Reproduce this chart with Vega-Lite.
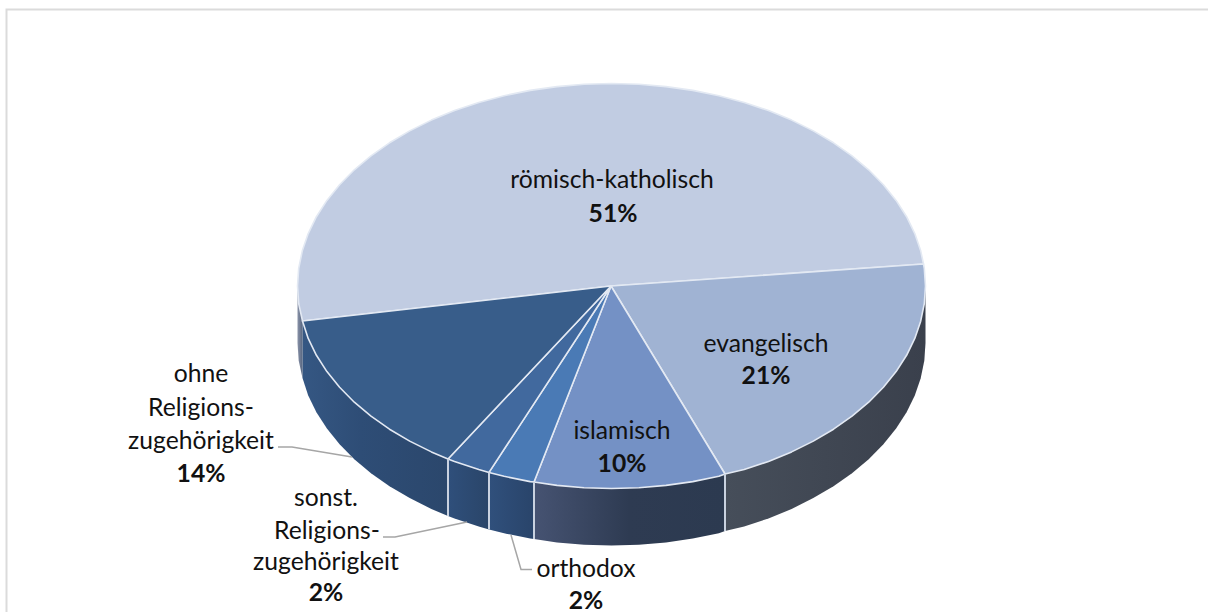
{"$schema":"https://vega.github.io/schema/vega-lite/v6.json","width":1208,"height":612,"padding":0,"autosize":{"type":"none"},"background":"white","config":{"view":{"stroke":null}},
"datasets":{
"walls":[
{"part":"w1","seq":1,"x":925.5,"y":286},{"part":"w1","seq":2,"x":925.5,"y":343},{"part":"w1","seq":3,"x":924.3,"y":360.7},{"part":"w1","seq":4,"x":920.7,"y":378.2},{"part":"w1","seq":5,"x":914.8,"y":395.4},{"part":"w1","seq":6,"x":906.6,"y":412.3},{"part":"w1","seq":7,"x":896.1,"y":428.6},{"part":"w1","seq":8,"x":883.4,"y":444.3},{"part":"w1","seq":9,"x":868.7,"y":459.2},{"part":"w1","seq":10,"x":852,"y":473.2},{"part":"w1","seq":11,"x":833.5,"y":486.2},{"part":"w1","seq":12,"x":813.3,"y":498.1},{"part":"w1","seq":13,"x":791.6,"y":508.9},{"part":"w1","seq":14,"x":768.5,"y":518.4},{"part":"w1","seq":15,"x":744.2,"y":526.5},{"part":"w1","seq":16,"x":725,"y":531},{"part":"w1","seq":17,"x":725,"y":474},
{"part":"w2","seq":1,"x":725,"y":474},{"part":"w2","seq":2,"x":725,"y":531},{"part":"w2","seq":3,"x":718.9,"y":533.3},{"part":"w2","seq":4,"x":692.8,"y":538.6},{"part":"w2","seq":5,"x":666,"y":542.4},{"part":"w2","seq":6,"x":638.9,"y":544.7},{"part":"w2","seq":7,"x":611.5,"y":545.5},{"part":"w2","seq":8,"x":584.1,"y":544.7},{"part":"w2","seq":9,"x":557,"y":542.4},{"part":"w2","seq":10,"x":534,"y":539},{"part":"w2","seq":11,"x":534,"y":482},
{"part":"w3","seq":1,"x":534,"y":482},{"part":"w3","seq":2,"x":534,"y":539},{"part":"w3","seq":3,"x":530.2,"y":538.6},{"part":"w3","seq":4,"x":504.1,"y":533.3},{"part":"w3","seq":5,"x":489,"y":529.4},{"part":"w3","seq":6,"x":489,"y":472.4},
{"part":"w4","seq":1,"x":489,"y":472.4},{"part":"w4","seq":2,"x":489,"y":529.4},{"part":"w4","seq":3,"x":478.8,"y":526.5},{"part":"w4","seq":4,"x":454.5,"y":518.4},{"part":"w4","seq":5,"x":448,"y":516},{"part":"w4","seq":6,"x":448,"y":459},
{"part":"w5","seq":1,"x":448,"y":459},{"part":"w5","seq":2,"x":448,"y":516},{"part":"w5","seq":3,"x":431.4,"y":508.9},{"part":"w5","seq":4,"x":409.7,"y":498.1},{"part":"w5","seq":5,"x":389.5,"y":486.2},{"part":"w5","seq":6,"x":371,"y":473.2},{"part":"w5","seq":7,"x":354.3,"y":459.2},{"part":"w5","seq":8,"x":339.6,"y":444.3},{"part":"w5","seq":9,"x":326.9,"y":428.6},{"part":"w5","seq":10,"x":316.4,"y":412.3},{"part":"w5","seq":11,"x":308.2,"y":395.4},{"part":"w5","seq":12,"x":302.5,"y":378},{"part":"w5","seq":13,"x":302.5,"y":321},
{"part":"w6","seq":1,"x":302.5,"y":321},{"part":"w6","seq":2,"x":302.5,"y":378},{"part":"w6","seq":3,"x":298.7,"y":360.7},{"part":"w6","seq":4,"x":297.5,"y":343},{"part":"w6","seq":5,"x":297.5,"y":286}
],
"slices":[
{"part":"römisch-katholisch","seq":1,"x":611,"y":286},{"part":"römisch-katholisch","seq":2,"x":302.5,"y":321},{"part":"römisch-katholisch","seq":3,"x":298.7,"y":303.7},{"part":"römisch-katholisch","seq":4,"x":297.5,"y":286},{"part":"römisch-katholisch","seq":5,"x":298.7,"y":268.3},{"part":"römisch-katholisch","seq":6,"x":302.3,"y":250.8},{"part":"römisch-katholisch","seq":7,"x":308.2,"y":233.6},{"part":"römisch-katholisch","seq":8,"x":316.4,"y":216.7},{"part":"römisch-katholisch","seq":9,"x":326.9,"y":200.4},{"part":"römisch-katholisch","seq":10,"x":339.6,"y":184.7},{"part":"römisch-katholisch","seq":11,"x":354.3,"y":169.8},{"part":"römisch-katholisch","seq":12,"x":371,"y":155.8},{"part":"römisch-katholisch","seq":13,"x":389.5,"y":142.8},{"part":"römisch-katholisch","seq":14,"x":409.7,"y":130.9},{"part":"römisch-katholisch","seq":15,"x":431.4,"y":120.1},{"part":"römisch-katholisch","seq":16,"x":454.5,"y":110.6},{"part":"römisch-katholisch","seq":17,"x":478.8,"y":102.5},{"part":"römisch-katholisch","seq":18,"x":504.1,"y":95.7},{"part":"römisch-katholisch","seq":19,"x":530.2,"y":90.4},{"part":"römisch-katholisch","seq":20,"x":557,"y":86.6},{"part":"römisch-katholisch","seq":21,"x":584.1,"y":84.3},{"part":"römisch-katholisch","seq":22,"x":611.5,"y":83.5},{"part":"römisch-katholisch","seq":23,"x":638.9,"y":84.3},{"part":"römisch-katholisch","seq":24,"x":666,"y":86.6},{"part":"römisch-katholisch","seq":25,"x":692.8,"y":90.4},{"part":"römisch-katholisch","seq":26,"x":718.9,"y":95.7},{"part":"römisch-katholisch","seq":27,"x":744.2,"y":102.5},{"part":"römisch-katholisch","seq":28,"x":768.5,"y":110.6},{"part":"römisch-katholisch","seq":29,"x":791.6,"y":120.1},{"part":"römisch-katholisch","seq":30,"x":813.3,"y":130.9},{"part":"römisch-katholisch","seq":31,"x":833.5,"y":142.8},{"part":"römisch-katholisch","seq":32,"x":852,"y":155.8},{"part":"römisch-katholisch","seq":33,"x":868.7,"y":169.8},{"part":"römisch-katholisch","seq":34,"x":883.4,"y":184.7},{"part":"römisch-katholisch","seq":35,"x":896.1,"y":200.4},{"part":"römisch-katholisch","seq":36,"x":906.6,"y":216.7},{"part":"römisch-katholisch","seq":37,"x":914.8,"y":233.6},{"part":"römisch-katholisch","seq":38,"x":920.7,"y":250.8},{"part":"römisch-katholisch","seq":39,"x":923.5,"y":264},{"part":"römisch-katholisch","seq":40,"x":611,"y":286},
{"part":"evangelisch","seq":1,"x":611,"y":286},{"part":"evangelisch","seq":2,"x":923.5,"y":264},{"part":"evangelisch","seq":3,"x":924.3,"y":268.3},{"part":"evangelisch","seq":4,"x":925.5,"y":286},{"part":"evangelisch","seq":5,"x":924.3,"y":303.7},{"part":"evangelisch","seq":6,"x":920.7,"y":321.2},{"part":"evangelisch","seq":7,"x":914.8,"y":338.4},{"part":"evangelisch","seq":8,"x":906.6,"y":355.3},{"part":"evangelisch","seq":9,"x":896.1,"y":371.6},{"part":"evangelisch","seq":10,"x":883.4,"y":387.3},{"part":"evangelisch","seq":11,"x":868.7,"y":402.2},{"part":"evangelisch","seq":12,"x":852,"y":416.2},{"part":"evangelisch","seq":13,"x":833.5,"y":429.2},{"part":"evangelisch","seq":14,"x":813.3,"y":441.1},{"part":"evangelisch","seq":15,"x":791.6,"y":451.9},{"part":"evangelisch","seq":16,"x":768.5,"y":461.4},{"part":"evangelisch","seq":17,"x":744.2,"y":469.5},{"part":"evangelisch","seq":18,"x":725,"y":474},{"part":"evangelisch","seq":19,"x":611,"y":286},
{"part":"islamisch","seq":1,"x":611,"y":286},{"part":"islamisch","seq":2,"x":725,"y":474},{"part":"islamisch","seq":3,"x":718.9,"y":476.3},{"part":"islamisch","seq":4,"x":692.8,"y":481.6},{"part":"islamisch","seq":5,"x":666,"y":485.4},{"part":"islamisch","seq":6,"x":638.9,"y":487.7},{"part":"islamisch","seq":7,"x":611.5,"y":488.5},{"part":"islamisch","seq":8,"x":584.1,"y":487.7},{"part":"islamisch","seq":9,"x":557,"y":485.4},{"part":"islamisch","seq":10,"x":534,"y":482},{"part":"islamisch","seq":11,"x":611,"y":286},
{"part":"orthodox","seq":1,"x":611,"y":286},{"part":"orthodox","seq":2,"x":534,"y":482},{"part":"orthodox","seq":3,"x":530.2,"y":481.6},{"part":"orthodox","seq":4,"x":504.1,"y":476.3},{"part":"orthodox","seq":5,"x":489,"y":472.4},{"part":"orthodox","seq":6,"x":611,"y":286},
{"part":"sonst. Religionszugehörigkeit","seq":1,"x":611,"y":286},{"part":"sonst. Religionszugehörigkeit","seq":2,"x":489,"y":472.4},{"part":"sonst. Religionszugehörigkeit","seq":3,"x":478.8,"y":469.5},{"part":"sonst. Religionszugehörigkeit","seq":4,"x":454.5,"y":461.4},{"part":"sonst. Religionszugehörigkeit","seq":5,"x":448,"y":459},{"part":"sonst. Religionszugehörigkeit","seq":6,"x":611,"y":286},
{"part":"ohne Religionszugehörigkeit","seq":1,"x":611,"y":286},{"part":"ohne Religionszugehörigkeit","seq":2,"x":448,"y":459},{"part":"ohne Religionszugehörigkeit","seq":3,"x":431.4,"y":451.9},{"part":"ohne Religionszugehörigkeit","seq":4,"x":409.7,"y":441.1},{"part":"ohne Religionszugehörigkeit","seq":5,"x":389.5,"y":429.2},{"part":"ohne Religionszugehörigkeit","seq":6,"x":371,"y":416.2},{"part":"ohne Religionszugehörigkeit","seq":7,"x":354.3,"y":402.2},{"part":"ohne Religionszugehörigkeit","seq":8,"x":339.6,"y":387.3},{"part":"ohne Religionszugehörigkeit","seq":9,"x":326.9,"y":371.6},{"part":"ohne Religionszugehörigkeit","seq":10,"x":316.4,"y":355.3},{"part":"ohne Religionszugehörigkeit","seq":11,"x":308.2,"y":338.4},{"part":"ohne Religionszugehörigkeit","seq":12,"x":302.5,"y":321},{"part":"ohne Religionszugehörigkeit","seq":13,"x":611,"y":286}
],
"lines":[
{"part":"frame","kind":"frame","seq":1,"x":6.5,"y":612},{"part":"frame","kind":"frame","seq":2,"x":6.5,"y":9.5},{"part":"frame","kind":"frame","seq":3,"x":1208,"y":9.5},
{"part":"s1","kind":"sep","seq":1,"x":725,"y":474},{"part":"s1","kind":"sep","seq":2,"x":725,"y":531},
{"part":"s2","kind":"sep","seq":1,"x":534,"y":482},{"part":"s2","kind":"sep","seq":2,"x":534,"y":539},
{"part":"s3","kind":"sep","seq":1,"x":489,"y":472.4},{"part":"s3","kind":"sep","seq":2,"x":489,"y":529.4},
{"part":"s4","kind":"sep","seq":1,"x":448,"y":459},{"part":"s4","kind":"sep","seq":2,"x":448,"y":516},
{"part":"l1","kind":"leader","seq":1,"x":278,"y":447},{"part":"l1","kind":"leader","seq":2,"x":292,"y":447},{"part":"l1","kind":"leader","seq":3,"x":352,"y":457},
{"part":"l2","kind":"leader","seq":1,"x":383,"y":537},{"part":"l2","kind":"leader","seq":2,"x":395,"y":537},{"part":"l2","kind":"leader","seq":3,"x":467,"y":522},
{"part":"l3","kind":"leader","seq":1,"x":511,"y":535},{"part":"l3","kind":"leader","seq":2,"x":521,"y":569.5},{"part":"l3","kind":"leader","seq":3,"x":532,"y":569.5}
],
"labels":[
{"label":"römisch-katholisch","x":612,"y":179,"bold":false},{"label":"51%","x":613,"y":213,"bold":true},
{"label":"evangelisch","x":766,"y":343,"bold":false},{"label":"21%","x":766,"y":375,"bold":true},
{"label":"islamisch","x":622,"y":430,"bold":false},{"label":"10%","x":622,"y":463,"bold":true},
{"label":"ohne","x":201,"y":373,"bold":false},{"label":"Religions-","x":201,"y":407,"bold":false},{"label":"zugehörigkeit","x":201,"y":440,"bold":false},{"label":"14%","x":201,"y":473,"bold":true},
{"label":"sonst.","x":326,"y":497,"bold":false},{"label":"Religions-","x":327,"y":530,"bold":false},{"label":"zugehörigkeit","x":326,"y":561,"bold":false},{"label":"2%","x":326,"y":592,"bold":true},
{"label":"orthodox","x":586,"y":568,"bold":false},{"label":"2%","x":586,"y":600,"bold":true}
]},
"encoding":{
"x":{"field":"x","type":"quantitative","scale":{"domain":[0,1208],"nice":false,"zero":false},"axis":null},
"y":{"field":"y","type":"quantitative","scale":{"domain":[612,0],"nice":false,"zero":false},"axis":null},
"order":{"field":"seq"}
},
"layer":[
{"data":{"name":"lines"},"transform":[{"filter":"datum.kind==='frame'"}],"mark":{"type":"line","stroke":"#DBDBDB","strokeWidth":2},"encoding":{"detail":{"field":"part"}}},
{"data":{"name":"walls"},"transform":[{"filter":"datum.part==='w1'"}],"mark":{"type":"line","strokeWidth":0,"fill":{"gradient":"linear","x1":0,"y1":0,"x2":1,"y2":0,"stops":[{"offset":0,"color":"#464E5A"},{"offset":1,"color":"#3A404C"}]}}},
{"data":{"name":"walls"},"transform":[{"filter":"datum.part==='w2'"}],"mark":{"type":"line","strokeWidth":0,"fill":{"gradient":"linear","x1":0,"y1":0,"x2":1,"y2":0,"stops":[{"offset":0,"color":"#465372"},{"offset":0.5,"color":"#2E3B52"},{"offset":1,"color":"#2C3A50"}]}}},
{"data":{"name":"walls"},"transform":[{"filter":"datum.part==='w3'"}],"mark":{"type":"line","strokeWidth":0,"fill":{"gradient":"linear","x1":0,"y1":0,"x2":1,"y2":0,"stops":[{"offset":0,"color":"#30507C"},{"offset":1,"color":"#29446A"}]}}},
{"data":{"name":"walls"},"transform":[{"filter":"datum.part==='w4'"}],"mark":{"type":"line","strokeWidth":0,"fill":{"gradient":"linear","x1":0,"y1":0,"x2":1,"y2":0,"stops":[{"offset":0,"color":"#2F4F7B"},{"offset":1,"color":"#2A4569"}]}}},
{"data":{"name":"walls"},"transform":[{"filter":"datum.part==='w5'"}],"mark":{"type":"line","strokeWidth":0,"fill":{"gradient":"linear","x1":0,"y1":0,"x2":1,"y2":0,"stops":[{"offset":0,"color":"#355783"},{"offset":0.4,"color":"#2E4D76"},{"offset":1,"color":"#2B476C"}]}}},
{"data":{"name":"walls"},"transform":[{"filter":"datum.part==='w6'"}],"mark":{"type":"line","strokeWidth":0,"fill":{"gradient":"linear","x1":0,"y1":0,"x2":1,"y2":0,"stops":[{"offset":0,"color":"#8A93A8"},{"offset":1,"color":"#566580"}]}}},
{"data":{"name":"slices"},"mark":{"type":"line","stroke":"#E3E9F3","strokeWidth":1.6,"strokeJoin":"round"},"encoding":{"fill":{"field":"part","type":"nominal","legend":null,"scale":{"domain":["römisch-katholisch","evangelisch","islamisch","orthodox","sonst. Religionszugehörigkeit","ohne Religionszugehörigkeit"],"range":["#C1CCE2","#A0B3D3","#7491C5","#4A7AB5","#41699E","#385D8A"]}}}},
{"data":{"name":"lines"},"transform":[{"filter":"datum.kind==='sep'"}],"mark":{"type":"line","stroke":"#C9D2E0","strokeWidth":2},"encoding":{"detail":{"field":"part"}}},
{"data":{"name":"lines"},"transform":[{"filter":"datum.kind==='leader'"}],"mark":{"type":"line","stroke":"#A6A6A6","strokeWidth":1.5},"encoding":{"detail":{"field":"part"}}},
{"data":{"name":"labels"},"transform":[{"filter":"!datum.bold"}],"mark":{"type":"text","font":"Lato","fontSize":24.7,"color":"#111111","align":"center","baseline":"middle","dy":1.5},"encoding":{"text":{"field":"label"},"order":{"value":null}}},
{"data":{"name":"labels"},"transform":[{"filter":"datum.bold"}],"mark":{"type":"text","font":"Lato","fontSize":24.7,"fontWeight":"bold","color":"#111111","align":"center","baseline":"middle","dy":1.5},"encoding":{"text":{"field":"label"},"order":{"value":null}}}
]}
